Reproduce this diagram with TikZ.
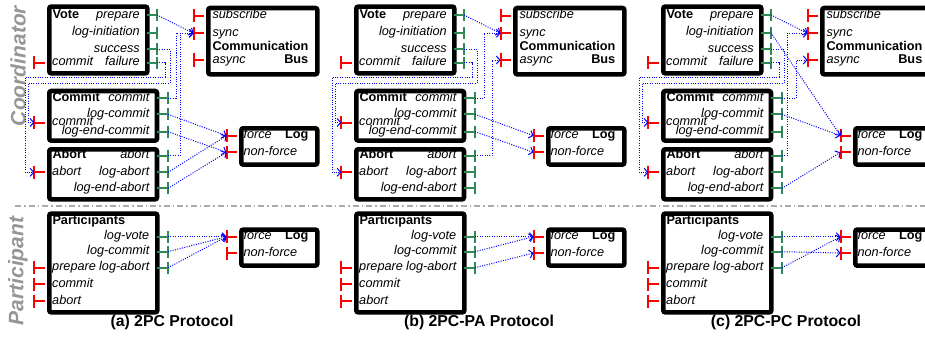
\documentclass[tikz,border=0pt]{standalone}
\usepackage{fontspec}
\setmainfont{Liberation Sans}
\usetikzlibrary{arrows.meta}
\definecolor{portgreen}{RGB}{46,139,87}
\definecolor{portred}{RGB}{255,0,0}
\definecolor{sidegray}{RGB}{150,150,150}
\definecolor{sepgray}{RGB}{170,170,170}
\tikzset{
  blk/.style={draw, line width=4.6pt, rounded corners=2pt, inner sep=0pt, anchor=north west},
  ptxt/.style={font=\fontsize{12.7}{14}\selectfont\itshape, inner sep=0pt, text height=9pt, text depth=2.5pt},
  btxt/.style={font=\fontsize{12.7}{14}\selectfont\bfseries, inner sep=0pt, text height=9pt, text depth=2.5pt},
  outp/.style={draw=portgreen, line width=1.8pt},
  inp/.style={draw=portred, line width=2pt},
  msg/.style={draw=blue, line width=1pt, dash pattern=on 1pt off 1.4pt, -{Straight Barb[length=3.5pt,width=8pt]}},
  side/.style={font=\fontsize{21}{24}\selectfont\bfseries\itshape, text=sidegray, rotate=90, inner sep=0pt},
  capt/.style={font=\fontsize{15.8}{18}\selectfont\bfseries, inner sep=0pt},
  sep/.style={draw=sepgray, line width=1.3pt, dash pattern=on 6pt off 3pt on 1.5pt off 3pt},
}
\begin{document}
\begin{tikzpicture}[x=1pt,y=-1pt]
  \useasboundingbox (0,0) rectangle (925,337);
  \node[side] (coord) at (18,66) {Coordinator};
  \node[side] (part) at (18,271) {Participant};
  \draw[sep] (15,206) -- (925,206);

  \foreach \p/\dx/\proto in {a/0/2PC, b/307/2PC-PA, c/614/2PC-PC}{
    \begin{scope}[xshift=\dx pt]
      % boxes
      \node[blk, minimum width=98pt, minimum height=66.7pt] (\p-vote) at (47,4.3) {};
      \node[blk, minimum width=109pt, minimum height=66.3pt] (\p-bus) at (206,5.7) {};
      \node[blk, minimum width=107.7pt, minimum height=49.6pt] (\p-commit) at (47,88.7) {};
      \node[blk, minimum width=107.7pt, minimum height=50pt] (\p-abort) at (47,147) {};
      \node[blk, minimum width=76pt, minimum height=36.3pt] (\p-log) at (239,126) {};
      \node[blk, minimum width=108pt, minimum height=98.7pt] (\p-part) at (47,211.3) {};
      \node[blk, minimum width=76pt, minimum height=36pt] (\p-plog) at (239,227.3) {};
      % titles
      \node[btxt, anchor=west] (\p-votet) at (52.3,15) {Vote};
      \node[btxt, anchor=west] (\p-bust) at (212.3,47.7) {Communication};
      \node[btxt, anchor=east] (\p-busb) at (308.5,60) {Bus};
      \node[btxt, anchor=west] (\p-committ) at (52.3,98.3) {Commit};
      \node[btxt, anchor=west] (\p-abortt) at (52.3,155.7) {Abort};
      \node[btxt, anchor=east] (\p-logt) at (308.5,135.7) {Log};
      \node[btxt, anchor=west] (\p-partt) at (52.3,221) {Participants};
      \node[btxt, anchor=east] (\p-plogt) at (308.5,236.7) {Log};
      % outgoing ports
      \foreach \y/\n/\lbl in {15/prepare/prepare, 32.7/loginit/log-initiation, 49.3/success/success, 62.7/failure/failure}{
        \node[ptxt, anchor=east] (\p-\n-t) at (140,\y) {\lbl};
        \draw[outp] (147.3,\y) -- (157,\y) coordinate (\p-\n) ++(0,-6) -- ++(0,12);
      }
      \foreach \y/\n/\lbl in {98.3/commitout/commit, 114.3/logcommit/log-commit, 131.7/logendcommit/log-end-commit,
          155.7/abortout/abort, 172.3/logabort/log-abort, 188.3/logendabort/log-end-abort,
          236.7/logvote/log-vote, 251.7/plogcommit/log-commit, 267.7/plogabort/log-abort}{
        \node[ptxt, anchor=east] (\p-\n-t) at (149.5,\y) {\lbl};
        \draw[outp] (157,\y) -- (168,\y) coordinate (\p-\n) ++(0,-6) -- ++(0,12);
      }
      % incoming ports
      \foreach \y/\n/\lbl in {62.7/votecommit/commit, 122.5/commitin/commit, 172.3/abortin/abort,
          267.7/pprepare/prepare, 284.3/pcommit/commit, 301/pabort/abort}{
        \node[ptxt, anchor=west] (\p-\n-t) at (52,\y) {\lbl};
        \draw[inp] (44.7,\y) -- (34.3,\y) coordinate (\p-\n) ++(0,-6.5) -- ++(0,13);
      }
      \foreach \y/\n/\lbl in {15.7/subscribe/subscribe, 33.3/sync/sync, 60/async/async}{
        \node[ptxt, anchor=west] (\p-\n-t) at (212.3,\y) {\lbl};
        \draw[inp] (203.7,\y) -- (193.5,\y) coordinate (\p-\n) ++(0,-6.5) -- ++(0,13);
      }
      \foreach \y/\n/\lbl in {135.7/force/force, 152.3/nonforce/non-force, 236.7/pforce/force, 253/pnonforce/non-force}{
        \node[ptxt, anchor=west] (\p-\n-t) at (243.3,\y) {\lbl};
        \draw[inp] (236.7,\y) -- (226.5,\y) coordinate (\p-\n) ++(0,-6.5) -- ++(0,13);
      }
      % messages every protocol has
      \draw[msg] (\p-prepare) -- (\p-sync);
      \draw[msg] (\p-success) -- ++(13,0) |- (28,83) |- (\p-commitin);
      \draw[msg] (\p-failure) -- ++(8,0) |- (25,77) |- (\p-abortin);
      \draw[msg] (\p-logvote) -- (\p-pforce);
      \node[capt] (\p-cap) at (172,322) {(\p) \proto{} Protocol};
    \end{scope}
  }

  % 2PC
  \draw[msg] (a-commitout) -- ++(8,0) |- (a-sync);
  \draw[msg] (a-abortout) -- ++(12,0) |- (a-sync);
  \draw[msg] (a-logcommit) -- (a-force);
  \draw[msg] (a-logendcommit) -- (a-nonforce);
  \draw[msg] (a-logabort) -- (a-force);
  \draw[msg] (a-logendabort) -- (a-nonforce);
  \draw[msg] (a-plogcommit) -- (a-pforce);
  \draw[msg] (a-plogabort) -- (a-pforce);
  % 2PC-PA
  \draw[msg] (b-commitout) -- ++(9,0) |- (b-sync);
  \draw[msg] (b-abortout) -- ++(17,0) |- (b-async);
  \draw[msg] (b-logcommit) -- (b-force);
  \draw[msg] (b-logendcommit) -- (b-nonforce);
  \draw[msg] (b-plogcommit) -- (b-pforce);
  \draw[msg] (b-plogabort) -- (b-pnonforce);
  % 2PC-PC
  \draw[msg] (c-loginit) -- (c-force);
  \draw[msg] (c-commitout) -- ++(14,0) |- (c-async);
  \draw[msg] (c-abortout) -- ++(5,0) |- (c-sync);
  \draw[msg] (c-logcommit) -- (c-force);
  \draw[msg] (c-logendabort) -- (c-nonforce);
  \draw[msg] (c-plogcommit) -- (c-pnonforce);
  \draw[msg] (c-plogabort) -- (c-pforce);
\end{tikzpicture}
\end{document}
